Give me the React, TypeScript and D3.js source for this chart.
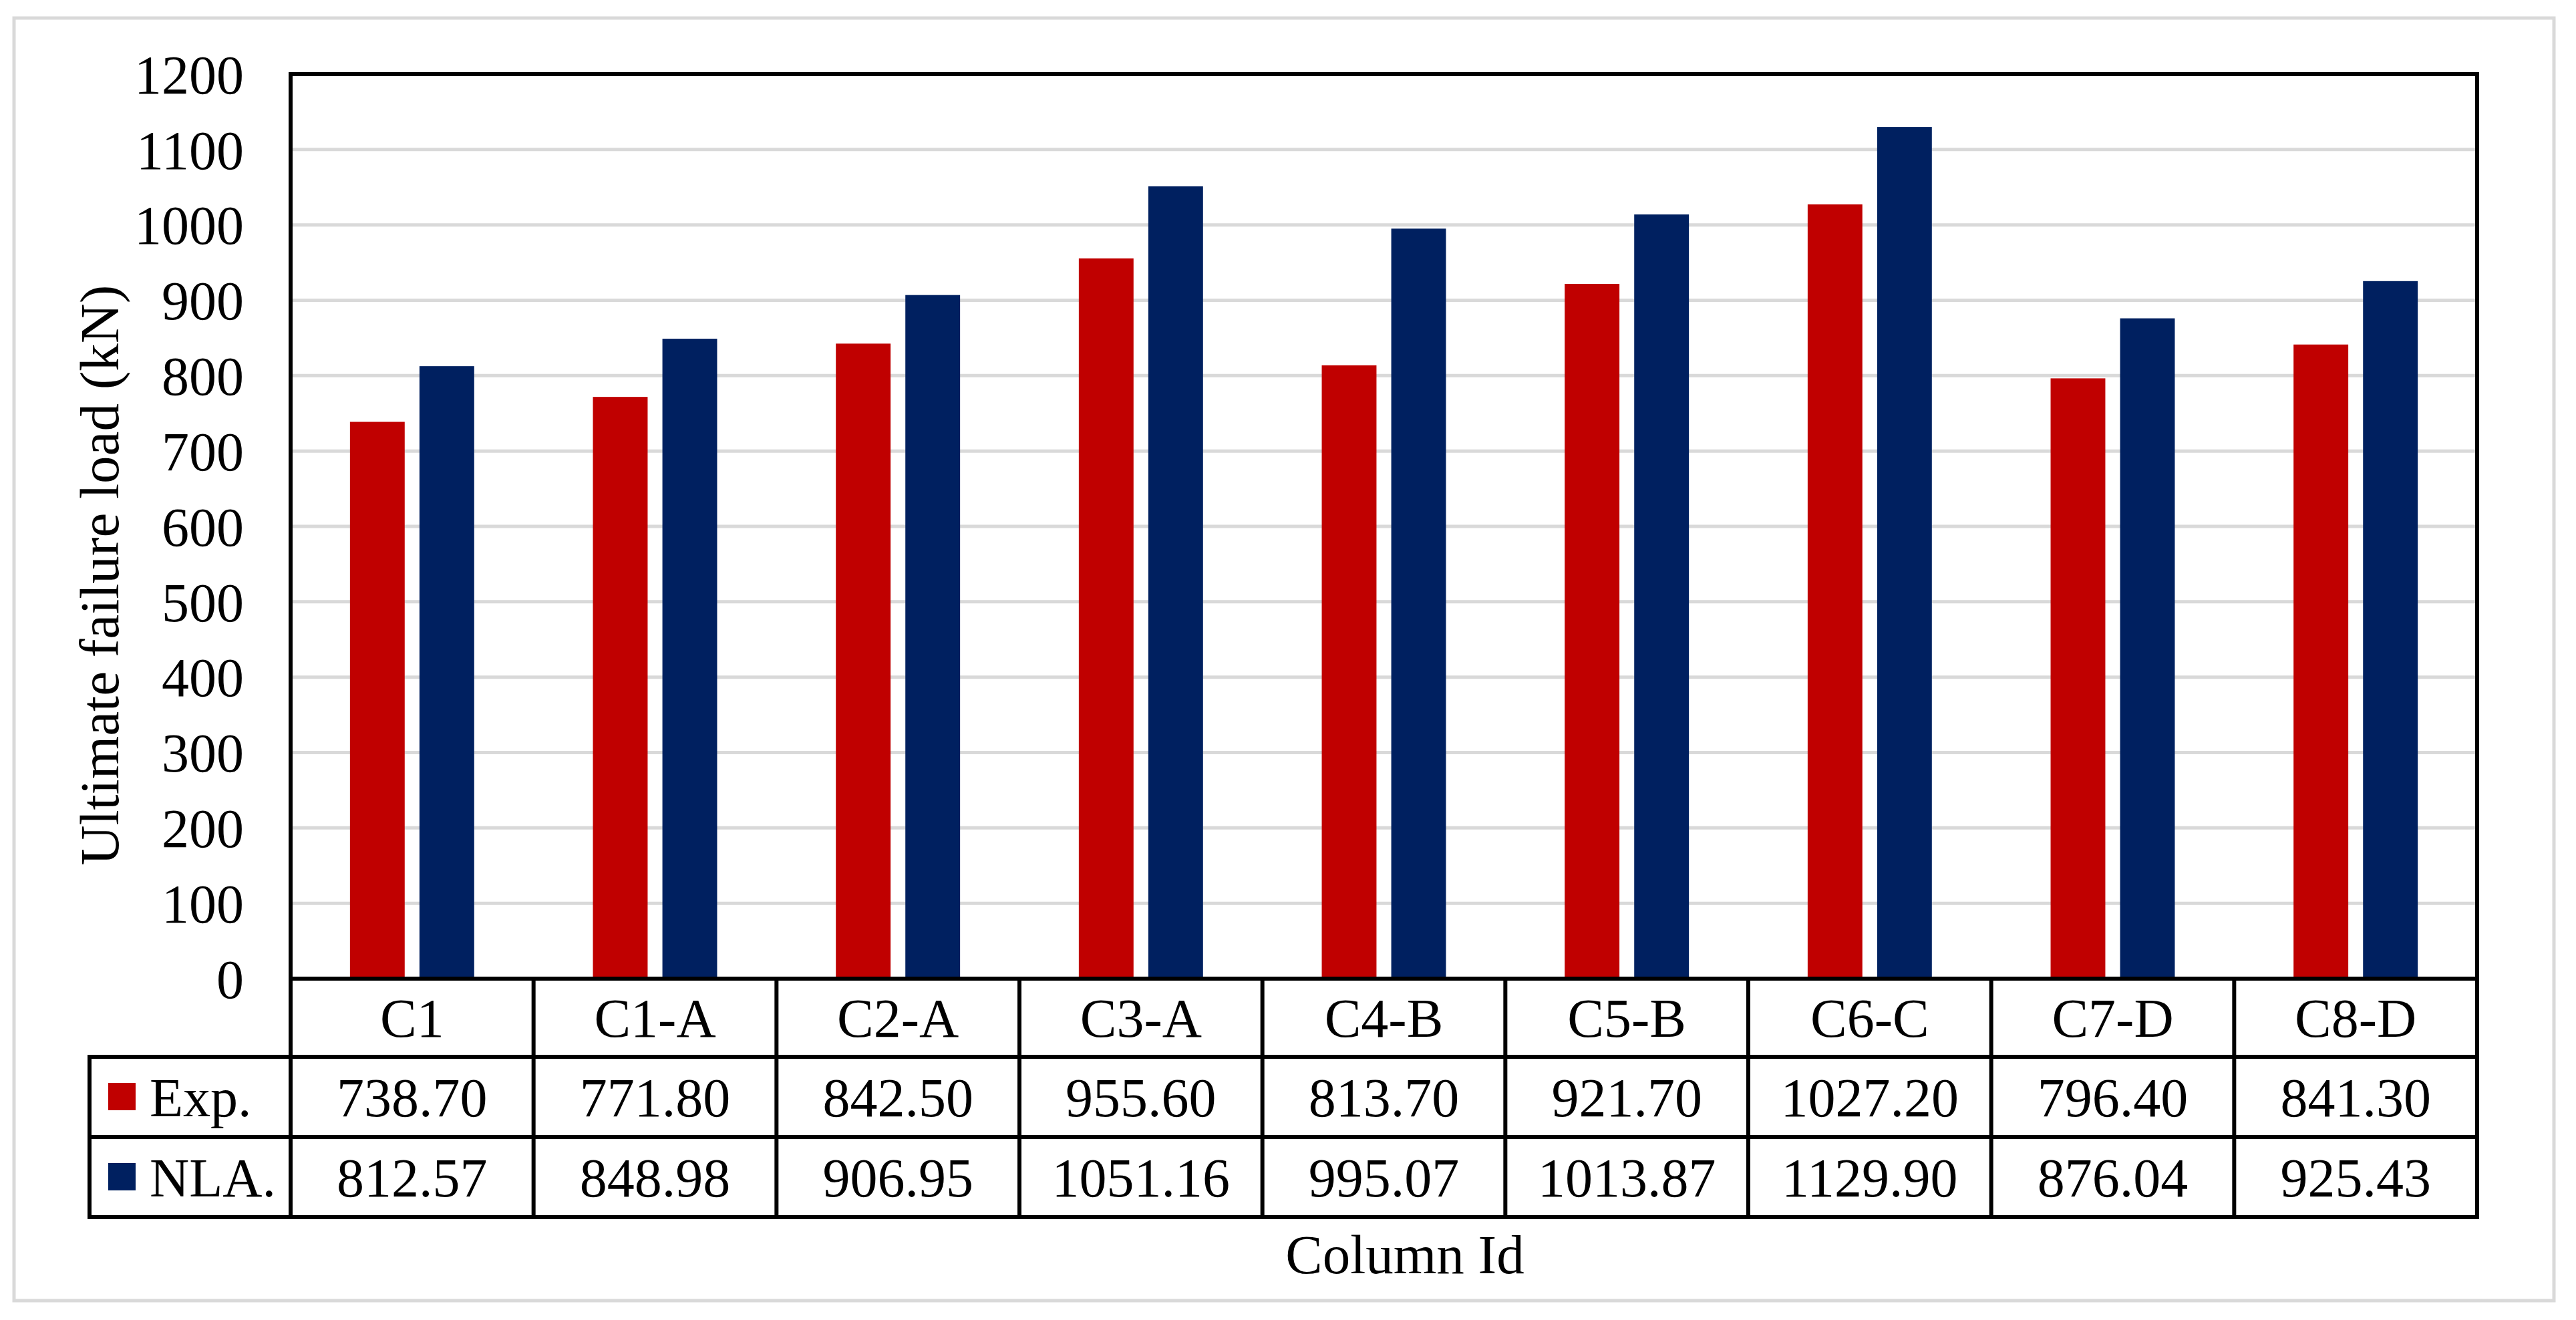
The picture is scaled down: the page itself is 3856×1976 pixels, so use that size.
import React from "react";
import * as d3 from "d3";

// chart data
const categories = ["C1", "C1-A", "C2-A", "C3-A", "C4-B", "C5-B", "C6-C", "C7-D", "C8-D"];
const seriesNames = ["Exp.", "NLA."];
const expValues = [738.7, 771.8, 842.5, 955.6, 813.7, 921.7, 1027.2, 796.4, 841.3];
const nlaValues = [812.57, 848.98, 906.95, 1051.16, 995.07, 1013.87, 1129.9, 876.04, 925.43];
const yTicks = [0, 100, 200, 300, 400, 500, 600, 700, 800, 900, 1000, 1100, 1200];

const colors = ["#C00000", "#002060"];
const font = "'Liberation Serif', 'Times New Roman', serif";

const W = 3856;
const H = 1976;
const margin = { left: 435, right: 3708, top: 111, bottom: 1465 };
const headerH = 117;
const rowH = 120;
const legendLeft = 134;
const lw = 6;

// excel style clustered bars: gap width 217%, overlap -27%
const gapWidth = 2.17;
const overlap = -0.27;

const App = () => {
  const x = d3.scaleBand<string>().domain(categories).range([margin.left, margin.right]).padding(0);
  const y = d3.scaleLinear().domain([0, 1200]).range([margin.bottom, margin.top]);

  const band = x.bandwidth();
  const barW = band / (2 + -overlap + gapWidth);
  const step = barW * (1 - overlap);
  const clusterStart = (band - (barW + step)) / 2;

  const series = [expValues, nlaValues];

  const rowTop = [margin.bottom, margin.bottom + headerH, margin.bottom + headerH + rowH];
  const tableBottom = margin.bottom + headerH + 2 * rowH;

  const fmt = d3.format(".2f");

  return (
    <svg
      width={W}
      height={H}
      style={{ position: "absolute", left: 0, top: 0, background: "#fff" }}
      fontFamily={font}
    >
      <rect x={0} y={0} width={W} height={H} fill="#fff" />
      <rect x={21} y={27} width={3802} height={1920} fill="none" stroke="#D9D9D9" strokeWidth={5} />

      {/* gridlines */}
      {yTicks
        .filter((t) => t > 0 && t < 1200)
        .map((t) => (
          <line key={t} x1={margin.left} x2={margin.right} y1={y(t)} y2={y(t)} stroke="#D9D9D9" strokeWidth={5} />
        ))}

      {/* bars */}
      {series.map((vals, si) =>
        vals.map((v, i) => (
          <rect
            key={`${si}-${i}`}
            x={(x(categories[i]) || 0) + clusterStart + si * step}
            y={y(v)}
            width={barW}
            height={y(0) - y(v)}
            fill={colors[si]}
          />
        ))
      )}

      {/* y tick labels */}
      {yTicks.map((t) => (
        <text key={t} x={margin.left - 70} y={y(t)} dy="0.35em" textAnchor="end" fontSize={82}>
          {t}
        </text>
      ))}

      {/* plot frame */}
      <line x1={margin.left} x2={margin.right} y1={margin.top} y2={margin.top} stroke="#000" strokeWidth={lw} />
      <line x1={margin.left} x2={margin.left} y1={margin.top - lw / 2} y2={tableBottom} stroke="#000" strokeWidth={lw} />
      <line x1={margin.right} x2={margin.right} y1={margin.top - lw / 2} y2={tableBottom} stroke="#000" strokeWidth={lw} />

      {/* data table lines */}
      <line x1={margin.left} x2={margin.right} y1={margin.bottom} y2={margin.bottom} stroke="#000" strokeWidth={lw} />
      {[rowTop[1], rowTop[2], tableBottom].map((yy) => (
        <line key={yy} x1={legendLeft - lw / 2} x2={margin.right + lw / 2} y1={yy} y2={yy} stroke="#000" strokeWidth={lw} />
      ))}
      <line x1={legendLeft} x2={legendLeft} y1={rowTop[1]} y2={tableBottom} stroke="#000" strokeWidth={lw} />
      {categories.slice(1).map((c) => (
        <line key={c} x1={x(c)} x2={x(c)} y1={margin.bottom} y2={tableBottom} stroke="#000" strokeWidth={lw} />
      ))}

      {/* category header */}
      {categories.map((c) => (
        <text
          key={c}
          x={(x(c) || 0) + band / 2}
          y={margin.bottom + headerH / 2}
          dy="0.35em"
          textAnchor="middle"
          fontSize={82}
        >
          {c}
        </text>
      ))}

      {/* table rows */}
      {series.map((vals, si) => (
        <g key={si}>
          <rect x={162} y={rowTop[si + 1] + rowH / 2 - 21} width={41} height={41} fill={colors[si]} />
          <text x={224} y={rowTop[si + 1] + rowH / 2} dy="0.35em" fontSize={82}>
            {seriesNames[si]}
          </text>
          {vals.map((v, i) => (
            <text
              key={i}
              x={(x(categories[i]) || 0) + band / 2}
              y={rowTop[si + 1] + rowH / 2}
              dy="0.35em"
              textAnchor="middle"
              fontSize={82}
            >
              {fmt(v)}
            </text>
          ))}
        </g>
      ))}

      {/* axis titles */}
      <text x={2103} y={1906} textAnchor="middle" fontSize={83}>
        Column Id
      </text>
      <text transform="translate(177,861) rotate(-90)" textAnchor="middle" fontSize={83}>
        Ultimate failure load (kN)
      </text>
    </svg>
  );
};

export default App;
